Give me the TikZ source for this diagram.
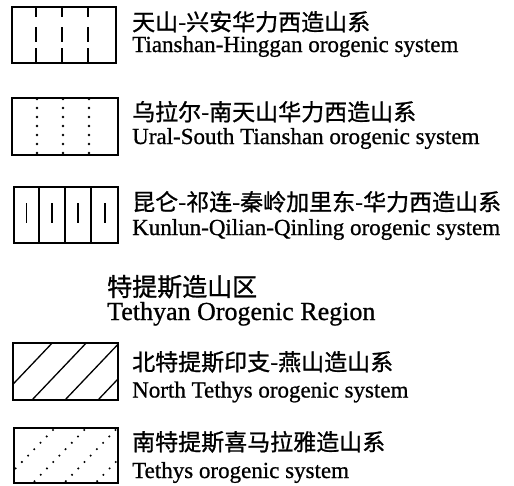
\documentclass[tikz,border=0pt]{standalone}
\usepackage{fontspec}
\setmainfont{Liberation Serif}[FakeBold=0.8]
\newfontfamily\cjk{Noto Sans CJK SC}[FakeBold=1.0]
\begin{document}
\begin{tikzpicture}[x=1pt,y=-1pt,
  frame/.style={draw=black, line width=2.8pt},
  inner/.style={line width=1.3pt},
  en/.style={anchor=base west, inner sep=0pt, font=\fontsize{23}{23}\selectfont},
  zh/.style={anchor=base west, inner sep=0pt, font=\cjk\fontsize{23}{23}\selectfont},
  dotmark/.style={fill=black}]
\useasboundingbox (0,0) rectangle (514,485);

% box 1: dashed verticals
\foreach \x in {36,62,88} {
  \draw[inner] (\x,7) -- (\x,17) (\x,27) -- (\x,42) (\x,48) -- (\x,63);
}
\draw[frame] (12,7) rectangle (116,63);

% box 2: dotted verticals
\foreach \x in {37,63,89} {
  \foreach \y in {99,108,117,126,135,144,153} {
    \fill[dotmark] (\x,\y) circle (1.3pt);
  }
}
\draw[frame] (12,98) rectangle (118,155);

% box 3: cells with short strokes
\foreach \x in {39,65,91} { \draw[inner] (\x,187) -- (\x,243); }
\foreach \x in {26.5,52,78,105} { \draw[line width=1.6pt] (\x,203) -- (\x,223); }
\draw[frame] (14,187) rectangle (118,243);

% box 4: hatching
\begin{scope}
  \clip (13,343) rectangle (118,400);
  \foreach \b in {-2,32,65,98} { \draw[inner] (\b,400) -- ++(54.2,-57); }
\end{scope}
\draw[frame] (13,343) rectangle (118,400);

% box 5: dotted hatching
\begin{scope}
  \clip (13,427) rectangle (119,484);
  \foreach \b in {1.5,32.8,64.1,95.4} {
    \foreach \k in {0,...,8} {
      \fill[dotmark] ({\b+(53-\k*6.4)*0.97},{430+\k*6.4}) circle (1.15pt);
    }
  }
\end{scope}
\draw[frame] (14,428) rectangle (118,483);

% texts
\node[zh] (z1) at (132,30.5) {天山-兴安华力西造山系};
\node[en] (e1) at (132,52) {Tianshan-Hinggan orogenic system};
\node[zh] (z2) at (132,120.5) {乌拉尔-南天山华力西造山系};
\node[en] (e2) at (132,144) {Ural-South Tianshan orogenic system};
\node[zh] (z3) at (132,210.5) {昆仑-祁连-秦岭加里东-华力西造山系};
\node[en] (e3) at (132,235) {Kunlun-Qilian-Qinling orogenic system};
\node[zh, font=\cjk\fontsize{25}{25}\selectfont] (zt) at (107,296) {特提斯造山区};
\node[en, font=\fontsize{26}{26}\selectfont] (et) at (107,320) {Tethyan Orogenic Region};
\node[zh] (z4) at (132,370.5) {北特提斯印支-燕山造山系};
\node[en] (e4) at (132,397.5) {North Tethys orogenic system};
\node[zh] (z5) at (132,450.5) {南特提斯喜马拉雅造山系};
\node[en] (e5) at (132,478) {Tethys orogenic system};
\end{tikzpicture}
\end{document}
